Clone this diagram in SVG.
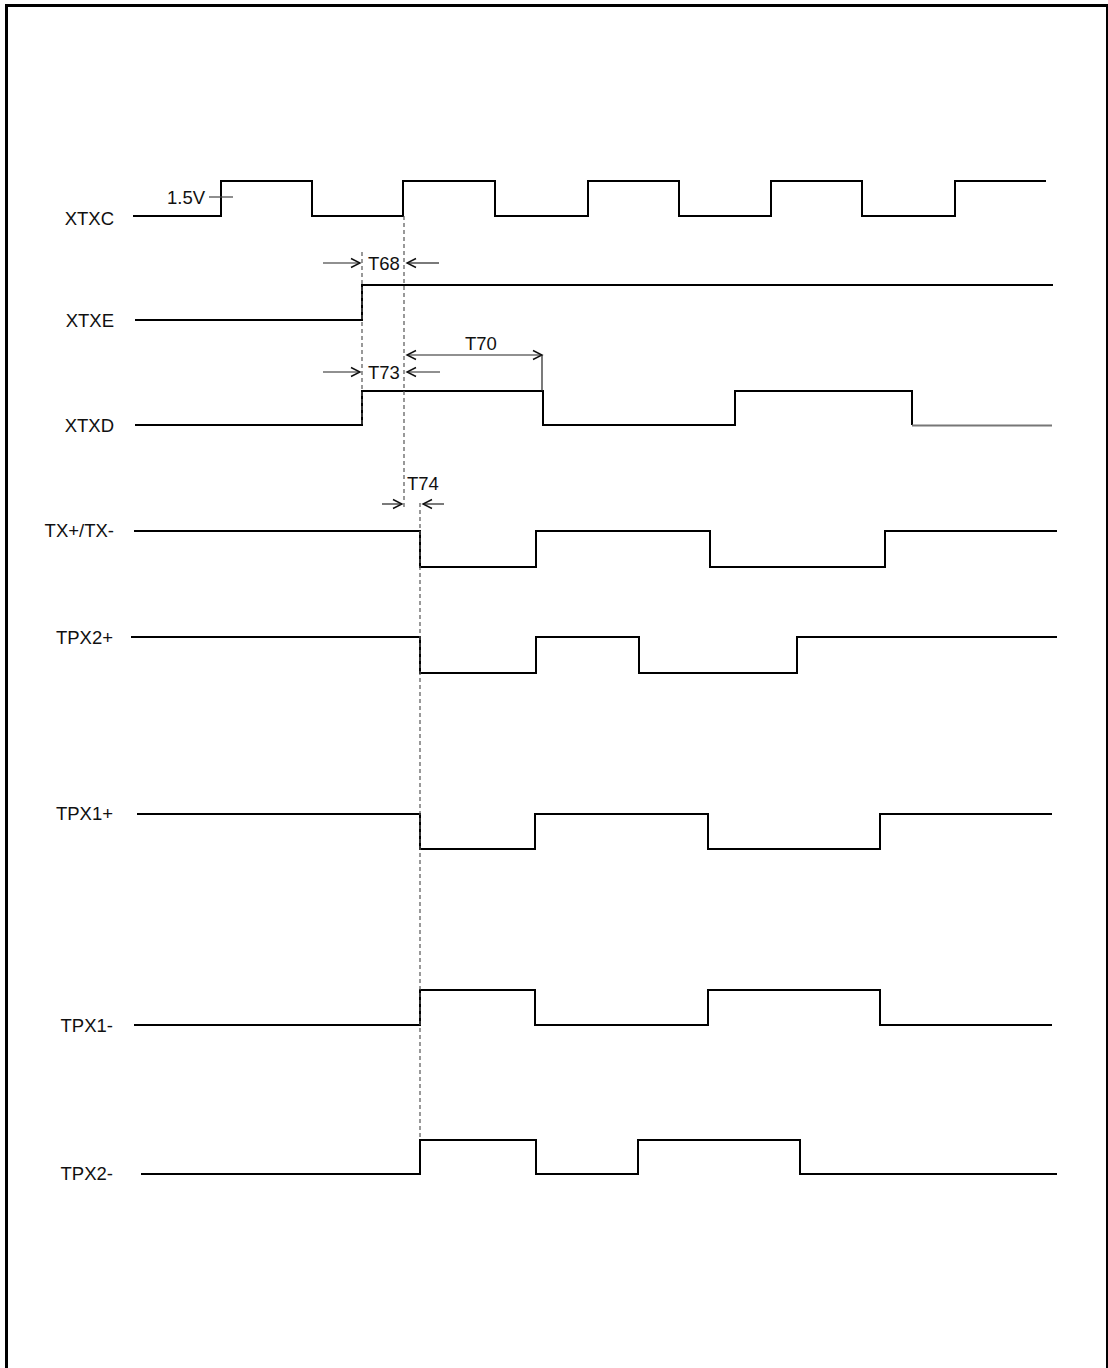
<svg xmlns="http://www.w3.org/2000/svg" width="1108" height="1368" viewBox="0 0 1108 1368">
<style>
text{font-family:"Liberation Sans",Arial,sans-serif;font-size:18.5px;fill:#111}
.lbl{text-anchor:end}
.w{fill:none;stroke:#000;stroke-width:2}
.dash{fill:none;stroke:#555;stroke-width:1.2;stroke-dasharray:4,3}
.arr{fill:none;stroke:#222;stroke-width:1.2}
</style>
<defs>
<marker id="ah" markerWidth="12" markerHeight="12" refX="10" refY="6" orient="auto" markerUnits="userSpaceOnUse">
<path d="M1,1.5 L10,6 L1,10.5" fill="none" stroke="#111" stroke-width="1.4"/>
</marker>
<marker id="ahs" markerWidth="12" markerHeight="12" refX="2" refY="6" orient="auto" markerUnits="userSpaceOnUse">
<path d="M11,1.5 L2,6 L11,10.5" fill="none" stroke="#111" stroke-width="1.4"/>
</marker>
</defs>
<rect width="1108" height="1368" fill="#fff"/>
<path d="M6.5,1368 V5.5 H1107" fill="none" stroke="#000" stroke-width="3"/>
<line x1="1107" y1="4" x2="1107" y2="1368" stroke="#000" stroke-width="2"/>

<g id="xtxc">
<text class="lbl" x="114" y="225">XTXC</text>
<path class="w" d="M133,216 H221 V181 H312 V216 H403 V181 H495 V216 H588 V181 H679 V216 H771 V181 H862 V216 H955 V181 H1046"/>
<text x="167" y="204">1.5V</text>
<line x1="209" y1="197" x2="233" y2="197" stroke="#444" stroke-width="1.2"/>
</g>
<g id="xtxe">
<text class="lbl" x="114" y="327">XTXE</text>
<path class="w" d="M135,320 H362 V285 H1053"/>
</g>
<g id="xtxd">
<text class="lbl" x="114" y="432">XTXD</text>
<path class="w" d="M135,425 H362 V391 H543 V425 H735 V391 H912 V425"/>
<line x1="912" y1="425.5" x2="1052" y2="425.5" stroke="#777" stroke-width="2"/>
</g>
<g id="txpm">
<text class="lbl" x="114" y="537">TX+/TX-</text>
<path class="w" d="M134,531 H420 V567 H536 V531 H710 V567 H885 V531 H1057"/>
</g>
<g id="tpx2p">
<text class="lbl" x="113" y="644">TPX2+</text>
<path class="w" d="M131,637 H420 V673 H536 V637 H639 V673 H797 V637 H1057"/>
</g>
<g id="tpx1p">
<text class="lbl" x="113" y="820">TPX1+</text>
<path class="w" d="M137,814 H420 V849 H535 V814 H708 V849 H880 V814 H1052"/>
</g>
<g id="tpx1m">
<text class="lbl" x="113" y="1032">TPX1-</text>
<path class="w" d="M134,1025 H420 V990 H535 V1025 H708 V990 H880 V1025 H1052"/>
</g>
<g id="tpx2m">
<text class="lbl" x="113" y="1180">TPX2-</text>
<path class="w" d="M141,1174 H420 V1140 H536 V1174 H638 V1140 H800 V1174 H1057"/>
</g>

<g id="connectors">
<line class="dash" x1="362" y1="252" x2="362" y2="425"/>
<line class="dash" x1="404" y1="216" x2="404" y2="507"/>
<line class="dash" x1="420" y1="503" x2="420" y2="1140"/>
<line class="arr" x1="323" y1="263" x2="360" y2="263" marker-end="url(#ah)"/>
<line class="arr" x1="439" y1="263" x2="407" y2="263" marker-end="url(#ah)"/>
<text x="368" y="270">T68</text>
<line class="arr" x1="323" y1="372" x2="360" y2="372" marker-end="url(#ah)"/>
<line class="arr" x1="440" y1="372" x2="407" y2="372" marker-end="url(#ah)"/>
<text x="368" y="379">T73</text>
<line class="arr" x1="407" y1="355" x2="542" y2="355" marker-start="url(#ahs)" marker-end="url(#ah)"/>
<line class="arr" x1="542" y1="355" x2="542" y2="391"/>
<text x="465" y="350">T70</text>
<line class="arr" x1="382" y1="504" x2="402" y2="504" marker-end="url(#ah)"/>
<line class="arr" x1="444" y1="504" x2="423" y2="504" marker-end="url(#ah)"/>
<text x="407" y="490">T74</text>
</g>
</svg>
